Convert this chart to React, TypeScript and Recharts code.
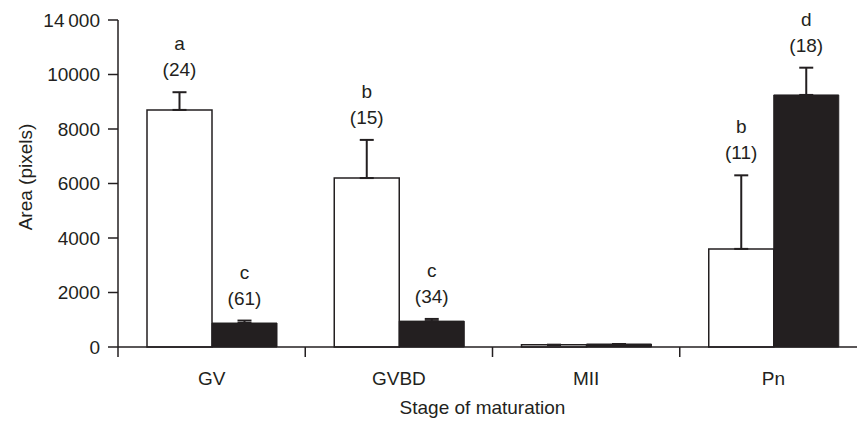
import React from 'react';
import { BarChart, Bar, XAxis, YAxis, ErrorBar, LabelList, Label } from 'recharts';

const categories = ['GV', 'GVBD', 'MII', 'Pn'];
const openValues = [8700, 6200, 80, 3600];
const openErrors = [650, 1400, 0, 2700];
const openLetters = ['a', 'b', '', 'b'];
const openCounts = [24, 15, null, 11];
const filledValues = [880, 950, 110, 9250];
const filledErrors = [90, 80, 0, 1000];
const filledLetters = ['c', 'c', '', 'd'];
const filledCounts = [61, 34, null, 18];
const yTickValues = [0, 2000, 4000, 6000, 8000, 10000, 12000];
const yTickLabels = ['0', '2000', '4000', '6000', '8000', '10000', '14\u2009000'];

const data = categories.map((stage, i) => ({
  stage,
  open: openValues[i],
  openErr: [0, openErrors[i]],
  filled: filledValues[i],
  filledErr: [0, filledErrors[i]],
}));

const INK = '#231f20';
const FONT = '"Liberation Sans", Arial, sans-serif';
const FS = 19;
const CHART_W = 870;
const CHART_H = 423;
const MARGIN = { top: 20, right: 3, bottom: 36, left: 0 };
const Y_AXIS_W = 118;
const X_AXIS_H = 40;
const X_TICK_MARGIN = 25;
const BAND = (CHART_W - MARGIN.left - MARGIN.right - Y_AXIS_W) / categories.length;

const CategoryTick = (props: any) => {
  const { x, y, payload } = props;
  const axisY = y - X_TICK_MARGIN;
  return (
    <g>
      <line x1={x - BAND / 2} x2={x - BAND / 2} y1={axisY} y2={axisY + 10} stroke={INK} strokeWidth={1.5} />
      <text x={x} y={y} dy="0.71em" textAnchor="middle" fill={INK} fontSize={FS} fontFamily={FONT}>
        {payload.value}
      </text>
    </g>
  );
};

const makeAnnotation = (letters: string[], counts: (number | null)[], errors: number[]) => (props: any) => {
  const { x, y, width, height, value, index } = props;
  if (!letters[index] || !value) return null;
  const pxPerUnit = height / value;
  const top = y - errors[index] * pxPerUnit;
  const cx = x + width / 2;
  return (
    <g>
      <text x={cx} y={top - 42} textAnchor="middle" fill={INK} fontSize={FS} fontFamily={FONT}>
        {letters[index]}
      </text>
      <text x={cx} y={top - 16} textAnchor="middle" fill={INK} fontSize={FS} fontFamily={FONT}>
        {`(${counts[index]})`}
      </text>
    </g>
  );
};

export default function App() {
  return (
    <div style={{ position: 'absolute', left: 0, top: 0, width: 857, height: 423, overflow: 'hidden', background: '#fff' }}>
      <BarChart width={CHART_W} height={CHART_H} data={data} margin={MARGIN} barCategoryGap={29} barGap={0}>
        <XAxis
          dataKey="stage"
          height={X_AXIS_H}
          tickLine={false}
          tickSize={0}
          tickMargin={X_TICK_MARGIN}
          tick={<CategoryTick />}
          axisLine={{ stroke: INK, strokeWidth: 1.5 }}
          interval={0}
        >
          <Label
            content={(p: any) => {
              const vb = p.viewBox;
              return (
                <text x={vb.x + vb.width / 2 - 10} y={vb.y + 67} textAnchor="middle" fill={INK} fontSize={FS} fontFamily={FONT}>
                  Stage of maturation
                </text>
              );
            }}
          />
        </XAxis>
        <YAxis
          width={Y_AXIS_W}
          domain={[0, 12000]}
          ticks={yTickValues}
          interval={0}
          tickSize={10}
          tickMargin={8}
          tickFormatter={(v: number) => yTickLabels[yTickValues.indexOf(v)]}
          tick={{ fill: INK, fontSize: FS, fontFamily: FONT }}
          tickLine={{ stroke: INK, strokeWidth: 1.5 }}
          axisLine={{ stroke: INK, strokeWidth: 1.5 }}
        >
          <Label
            content={(p: any) => {
              const vb = p.viewBox;
              const cx = 25;
              const cy = 177;
              return (
                <text x={cx} y={cy} transform={`rotate(-90 ${cx} ${cy})`} dy="0.35em" textAnchor="middle" fill={INK} fontSize={FS} fontFamily={FONT}>
                  Area (pixels)
                </text>
              );
            }}
          />
        </YAxis>
        <Bar dataKey="open" fill="#ffffff" stroke={INK} strokeWidth={1.5} isAnimationActive={false}>
          <ErrorBar dataKey="openErr" direction="y" width={7} stroke={INK} strokeWidth={2} />
          <LabelList dataKey="open" content={makeAnnotation(openLetters, openCounts, openErrors)} />
        </Bar>
        <Bar dataKey="filled" fill={INK} stroke={INK} strokeWidth={1} isAnimationActive={false}>
          <ErrorBar dataKey="filledErr" direction="y" width={7} stroke={INK} strokeWidth={2} />
          <LabelList dataKey="filled" content={makeAnnotation(filledLetters, filledCounts, filledErrors)} />
        </Bar>
      </BarChart>
    </div>
  );
}
